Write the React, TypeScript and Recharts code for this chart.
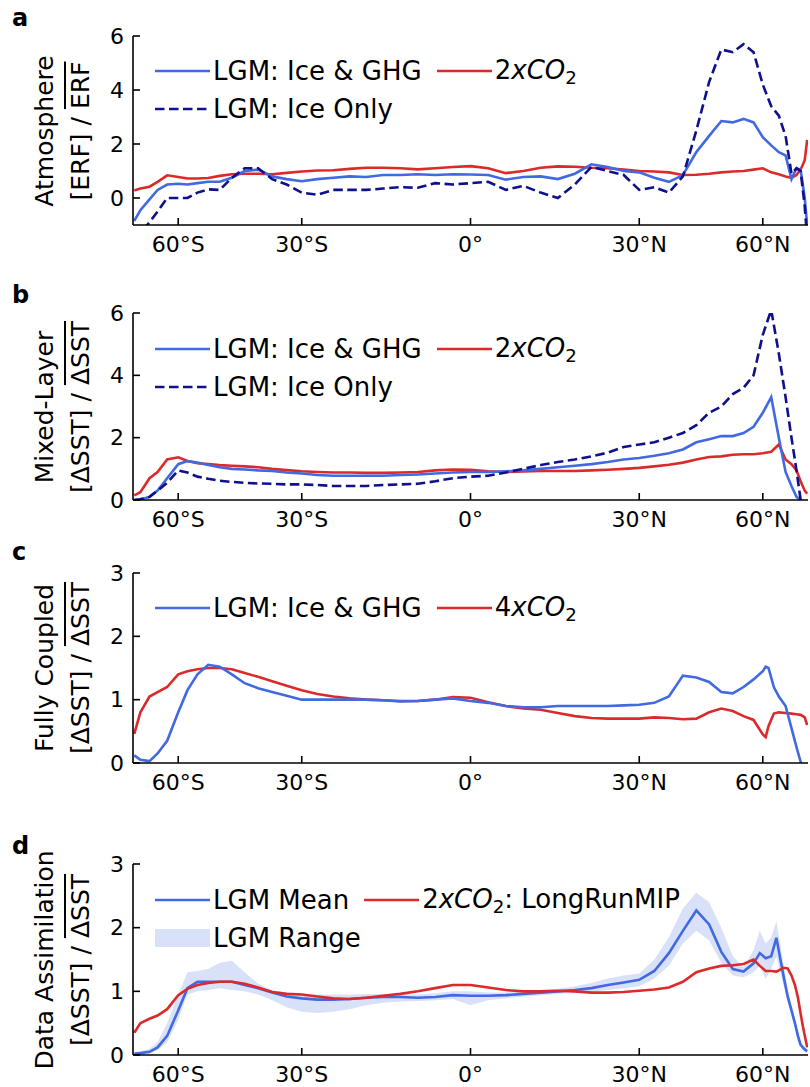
import React from "react";
import { ComposedChart, Line, Area, XAxis, YAxis } from "recharts";

const FONT = "'DejaVu Sans', sans-serif";
const BLUE = "#4169e1";
const RED = "#dc2a2a";
const NAVY = "#10108c";
const BAND = "#d9e1f9";

// latitude ticks, placed on a sin(latitude) axis
const TICK_LATS = [-60, -30, 0, 30, 60];
const TICK_LABELS = ["60°S", "30°S", "0°", "30°N", "60°N"];

// shared latitude grid (degrees)
const LAT = [
  -85, -78, -72, -68, -64, -60, -57, -54, -51, -48, -45, -42, -39, -36, -33, -30, -27, -24, -21, -18, -15, -12,
  -9, -6, -3, 0, 3, 6, 9, 12, 15, 18, 21, 24, 27, 30, 33, 36, 39, 42, 45, 48, 51, 54, 57, 60, 63, 66, 69, 72,
  75, 78, 82, 86,
];

// a: atmosphere, ERF-normalised
const ATM_ICE_GHG = [
  -0.85, -0.45, -0.05, 0.3, 0.5, 0.53, 0.5, 0.55, 0.6, 0.6, 0.75, 1.0, 1.05, 0.8, 0.7, 0.62, 0.7, 0.75, 0.8, 0.78,
  0.85, 0.85, 0.88, 0.85, 0.88, 0.87, 0.85, 0.68, 0.78, 0.8, 0.7, 0.9, 1.25, 1.15, 1.0, 0.95, 0.75, 0.6, 0.85, 1.7,
  2.3, 2.85, 2.8, 2.93, 2.8, 2.25, 1.95, 1.7, 1.58, 0.7, 1.1, 1.05, 0.0, -1.0,
];
const ATM_ICE_ONLY = [
  -1.6, -1.3, -0.9, -0.5, 0.0, 0.0, 0.0, 0.2, 0.32, 0.3, 0.75, 1.1, 1.1, 0.7, 0.5, 0.2, 0.12, 0.3, 0.3, 0.3, 0.35,
  0.4, 0.38, 0.55, 0.5, 0.55, 0.6, 0.3, 0.45, 0.2, 0.0, 0.5, 1.15, 1.0, 0.85, 0.3, 0.4, 0.2, 0.8, 2.5, 4.3, 5.5,
  5.4, 5.7, 5.4, 4.2, 3.4, 3.05, 2.3, 0.9, 1.1, 1.0, -0.3, -1.5,
];
const ATM_2XCO2 = [
  0.28, 0.35, 0.42, 0.6, 0.84, 0.78, 0.72, 0.72, 0.74, 0.82, 0.88, 0.9, 0.9, 0.88, 0.93, 0.98, 1.02, 1.03, 1.08,
  1.12, 1.12, 1.1, 1.06, 1.1, 1.15, 1.18, 1.1, 0.92, 1.0, 1.12, 1.17, 1.16, 1.12, 1.1, 1.05, 1.0, 0.98, 0.95, 0.85,
  0.86, 0.9, 0.95, 0.98, 1.0, 1.05, 1.1, 0.95, 0.88, 0.8, 0.75, 0.85, 1.05, 1.4, 2.15,
];

// b: mixed-layer ocean, SST-normalised
const ML_ICE_GHG = [
  0.0, 0.02, 0.1, 0.3, 0.7, 1.15, 1.25, 1.2, 1.12, 1.05, 1.0, 0.98, 0.95, 0.93, 0.88, 0.85, 0.8, 0.78, 0.78, 0.78,
  0.78, 0.8, 0.82, 0.85, 0.88, 0.9, 0.9, 0.92, 0.95, 1.0, 1.05, 1.1, 1.15, 1.22, 1.3, 1.35, 1.42, 1.5, 1.62, 1.85,
  1.95, 2.05, 2.05, 2.15, 2.35, 2.8, 3.3, 2.0, 0.9, 0.45, 0.1, 0.0, -0.2, -0.3,
];
const ML_ICE_ONLY = [
  0.0, 0.02, 0.1, 0.3, 0.55, 0.95, 0.88, 0.75, 0.68, 0.62, 0.58, 0.55, 0.53, 0.52, 0.5, 0.5, 0.48, 0.45, 0.45, 0.45,
  0.48, 0.5, 0.52, 0.6, 0.7, 0.75, 0.78, 0.88, 1.0, 1.12, 1.22, 1.3, 1.4, 1.52, 1.7, 1.78, 1.85, 2.0, 2.15, 2.4,
  2.8, 3.0, 3.4, 3.6, 4.0, 5.3, 6.1, 4.7, 3.3, 2.0, 0.95, 0.0, -0.3, -0.3,
];
const ML_2XCO2 = [
  0.15, 0.25, 0.7, 0.9, 1.3, 1.37, 1.25, 1.18, 1.15, 1.12, 1.1, 1.08, 1.05, 1.0, 0.96, 0.92, 0.9, 0.88, 0.88, 0.87,
  0.87, 0.88, 0.9, 0.95, 0.98, 0.97, 0.92, 0.9, 0.92, 0.93, 0.93, 0.93, 0.95, 0.97, 1.0, 1.03, 1.08, 1.13, 1.2, 1.3,
  1.38, 1.4, 1.45, 1.47, 1.47, 1.5, 1.55, 1.78, 1.3, 1.15, 0.95, 0.6, 0.3, 0.2,
];

// c: fully coupled, SST-normalised
const LAT_C = [
  -85, -78, -72, -68, -64, -60, -57, -54, -51, -48, -45, -42, -39, -36, -33, -30, -27, -24, -21, -18, -15, -12,
  -9, -6, -3, 0, 3, 6, 9, 12, 15, 18, 21, 24, 27, 30, 33, 36, 39, 42, 45, 48, 51, 54, 57, 60, 61, 62, 64, 66, 69,
  72, 75, 78, 82, 86,
];
const CPL_ICE_GHG = [
  0.12, 0.05, 0.03, 0.15, 0.35, 0.8, 1.15, 1.4, 1.55, 1.52, 1.4, 1.26, 1.18, 1.12, 1.06, 1.0, 1.0, 1.0, 1.0, 1.0,
  0.99, 0.97, 0.98, 1.0, 1.02, 0.98, 0.95, 0.9, 0.88, 0.88, 0.9, 0.9, 0.9, 0.9, 0.91, 0.92, 0.95, 1.05, 1.38, 1.35,
  1.28, 1.12, 1.1, 1.2, 1.32, 1.45, 1.52, 1.5, 1.2, 1.05, 0.9, 0.55, 0.25, 0.02, -0.2, -0.3,
];
const CPL_4XCO2 = [
  0.46, 0.8, 1.05, 1.12, 1.2, 1.4, 1.45, 1.48, 1.5, 1.5, 1.48, 1.42, 1.36, 1.29, 1.22, 1.15, 1.09, 1.05, 1.02, 1.0,
  0.99, 0.98, 0.98, 1.0, 1.04, 1.03, 0.96, 0.9, 0.86, 0.84, 0.79, 0.74, 0.71, 0.7, 0.7, 0.7, 0.72, 0.71, 0.69, 0.7,
  0.8, 0.86, 0.82, 0.74, 0.68, 0.45, 0.41, 0.58, 0.78, 0.8, 0.79, 0.78, 0.77, 0.76, 0.72, 0.6,
];

// d: data assimilation vs LongRunMIP
const LAT_D = [
  -85, -78, -72, -68, -64, -60, -57, -54, -51, -48, -45, -42, -39, -36, -33, -30, -27, -24, -21, -18, -15, -12,
  -9, -6, -3, 0, 3, 6, 9, 12, 15, 18, 21, 24, 27, 30, 33, 36, 39, 42, 45, 48, 51, 54, 57, 59, 61, 63, 65, 68, 70,
  72, 74, 76, 78, 80, 83, 86,
];
const DA_LGM_MEAN = [
  0.02, 0.03, 0.05, 0.12, 0.3, 0.7, 1.05, 1.15, 1.15, 1.15, 1.15, 1.1, 1.05, 0.98, 0.92, 0.89, 0.87, 0.87, 0.88, 0.9,
  0.91, 0.91, 0.9, 0.91, 0.94, 0.93, 0.93, 0.94, 0.96, 0.98, 1.0, 1.02, 1.05, 1.1, 1.14, 1.18, 1.32, 1.6, 1.95, 2.27,
  2.05, 1.62, 1.35, 1.31, 1.44, 1.6, 1.52, 1.55, 1.84, 1.25, 0.92, 0.7, 0.5, 0.3, 0.16, 0.12, 0.08, 0.06,
];
const DA_LGM_LOW = [
  0.0, 0.0, 0.02, 0.08, 0.2, 0.55, 0.95, 1.0, 1.02, 1.05, 1.02, 1.0, 0.95, 0.86, 0.75, 0.68, 0.66, 0.68, 0.72, 0.78,
  0.82, 0.84, 0.85, 0.86, 0.88, 0.78, 0.86, 0.89, 0.92, 0.94, 0.96, 0.97, 0.99, 1.02, 1.05, 1.08, 1.2, 1.4, 1.75,
  1.95, 1.8, 1.45, 1.25, 1.22, 1.3, 1.4, 1.2, 1.35, 1.55, 1.1, 0.85, 0.62, 0.4, 0.2, 0.12, 0.07, 0.04, 0.03,
];
const DA_LGM_HIGH = [
  0.05, 0.06, 0.1, 0.2, 0.5, 0.95, 1.3, 1.32, 1.35, 1.45, 1.48, 1.3, 1.12, 1.02, 0.98, 0.96, 0.95, 0.95, 0.95, 0.96,
  0.96, 0.96, 0.95, 0.97, 1.0, 1.0, 0.98, 0.98, 1.0, 1.02, 1.04, 1.08, 1.13, 1.2, 1.25, 1.28, 1.5, 1.85, 2.3, 2.55,
  2.4, 2.0, 1.55, 1.38, 1.65, 1.95, 1.75, 1.85, 2.1, 1.45, 1.05, 0.78, 0.55, 0.35, 0.2, 0.14, 0.09, 0.07,
];
const DA_2XCO2 = [
  0.35, 0.5, 0.57, 0.62, 0.72, 0.94, 1.04, 1.1, 1.13, 1.15, 1.15, 1.12, 1.06, 0.99, 0.96, 0.95, 0.92, 0.89, 0.88,
  0.9, 0.93, 0.96, 1.0, 1.05, 1.1, 1.1, 1.06, 1.02, 1.0, 1.0, 1.01, 1.0, 0.98, 0.98, 0.99, 1.01, 1.03, 1.06, 1.15,
  1.3, 1.36, 1.4, 1.41, 1.43, 1.5, 1.4, 1.32, 1.32, 1.31, 1.37, 1.36, 1.25, 1.1, 0.9, 0.65, 0.45, 0.25, 0.12,
];

const rad = (d: number) => (d * Math.PI) / 180;

function toRows(lat: number[], cols: Record<string, number[]>) {
  return lat.map((l, i) => {
    const row: Record<string, any> = { x: Math.sin(rad(l)) };
    for (const k of Object.keys(cols)) row[k] = cols[k][i];
    return row;
  });
}

const dataA = toRows(LAT, { ghg: ATM_ICE_GHG, ice: ATM_ICE_ONLY, co2: ATM_2XCO2 });
const dataB = toRows(LAT, { ghg: ML_ICE_GHG, ice: ML_ICE_ONLY, co2: ML_2XCO2 });
const dataC = toRows(LAT_C, { ghg: CPL_ICE_GHG, co2: CPL_4XCO2 });
const dataD = toRows(LAT_D, { mean: DA_LGM_MEAN, co2: DA_2XCO2 }).map((r, i) => ({
  ...r,
  range: [DA_LGM_LOW[i], DA_LGM_HIGH[i]],
}));

const W = 810;
const tickFont = { fontSize: 22, fill: "#000", fontFamily: FONT };
const axisLine = { stroke: "#000", strokeWidth: 1.6 };

function latAxis(h: number) {
  return (
    <XAxis
      type="number"
      dataKey="x"
      domain={[-1, 1]}
      ticks={TICK_LATS.map((l) => Math.sin(rad(l)))}
      tickFormatter={(_v: number, i: number) => TICK_LABELS[i]}
      interval={0}
      height={h}
      tick={tickFont}
      axisLine={axisLine}
      tickLine={axisLine}
      tickSize={-7}
      tickMargin={18}
      allowDataOverflow
    />
  );
}

function valueAxis(domain: [number, number], ticks: number[]) {
  return (
    <YAxis
      type="number"
      domain={domain}
      ticks={ticks}
      interval={0}
      width={133}
      tick={tickFont}
      axisLine={axisLine}
      tickLine={axisLine}
      tickSize={-7}
      tickMargin={16}
      allowDataOverflow
    />
  );
}

const lineProps = { type: "linear" as const, dot: false, strokeWidth: 2.6, isAnimationActive: false };

// "NxCO2" with italic xCO and a lowered 2 that does not disturb the line box
const CO2 = (n: string) => (
  <span>
    {n}
    <i>xCO</i>
    <span style={{ fontSize: "0.7em", position: "relative", top: "0.3em" }}>2</span>
  </span>
);

type Item = { label: React.ReactNode; color: string; dashed?: boolean; patch?: boolean };

function Swatch({ item }: { item: Item }) {
  return (
    <svg width={55} height={24} style={{ display: "block" }}>
      {item.patch ? (
        <rect x={0} y={3} width={55} height={18} fill={item.color} />
      ) : (
        <line
          x1={0}
          x2={55}
          y1={12}
          y2={12}
          stroke={item.color}
          strokeWidth={2.6}
          strokeDasharray={item.dashed ? "9.5 4.5" : undefined}
        />
      )}
    </svg>
  );
}

function LegendBox({ rows, top }: { rows: Item[][]; top: number }) {
  return (
    <div style={{ position: "absolute", left: 155, top, fontFamily: FONT, fontSize: 26 }}>
      {rows.map((row, r) => (
        <div key={r} style={{ display: "flex", alignItems: "center", height: 38 }}>
          {row.map((it, j) => (
            <div key={j} style={{ display: "flex", alignItems: "center", marginLeft: j ? 15 : 0 }}>
              <Swatch item={it} />
              <span style={{ marginLeft: 3, whiteSpace: "nowrap", lineHeight: "30px", display: "block" }}>
                {it.label}
              </span>
            </div>
          ))}
        </div>
      ))}
    </div>
  );
}

function AxisTitle({ top, line1, quantity }: { top: number; line1: string; quantity: string }) {
  return (
    <div
      style={{
        position: "absolute",
        left: 63,
        top,
        transform: "translate(-50%, -50%) rotate(-90deg)",
        fontFamily: FONT,
        fontSize: 25,
        lineHeight: "36px",
        textAlign: "center",
        whiteSpace: "nowrap",
      }}
    >
      <div>{line1}</div>
      <div>
        [{quantity}] / <span style={{ textDecoration: "overline", textDecorationThickness: 1.5 }}>{quantity}</span>
      </div>
    </div>
  );
}

function PanelLetter({ top, children }: { top: number; children: string }) {
  return (
    <div
      style={{
        position: "absolute",
        left: 12,
        top,
        fontFamily: FONT,
        fontWeight: "bold",
        fontSize: 24,
        lineHeight: "24px",
      }}
    >
      {children}
    </div>
  );
}

function Panel({ top, children }: { top: number; children: React.ReactNode }) {
  return <div style={{ position: "absolute", left: 0, top, width: W }}>{children}</div>;
}

export default function App() {
  return (
    <div style={{ position: "absolute", left: 0, top: 0, width: W, height: 1087, background: "#fff" }}>
      <Panel top={0}>
        <ComposedChart width={W} height={262} data={dataA} margin={{ top: 36, right: 2, bottom: 0, left: 0 }}>
          {latAxis(37)}
          {valueAxis([-1, 6], [0, 2, 4, 6])}
          <Line dataKey="co2" stroke={RED} {...lineProps} />
          <Line dataKey="ghg" stroke={BLUE} {...lineProps} />
          <Line dataKey="ice" stroke={NAVY} strokeDasharray="9.5 4.5" {...lineProps} />
        </ComposedChart>
      </Panel>

      <Panel top={270}>
        <ComposedChart width={W} height={265} data={dataB} margin={{ top: 43, right: 2, bottom: 0, left: 0 }}>
          {latAxis(35)}
          {valueAxis([0, 6], [0, 2, 4, 6])}
          <Line dataKey="co2" stroke={RED} {...lineProps} />
          <Line dataKey="ghg" stroke={BLUE} {...lineProps} />
          <Line dataKey="ice" stroke={NAVY} strokeDasharray="9.5 4.5" {...lineProps} />
        </ComposedChart>
      </Panel>

      <Panel top={540}>
        <ComposedChart width={W} height={258} data={dataC} margin={{ top: 33, right: 2, bottom: 0, left: 0 }}>
          {latAxis(35)}
          {valueAxis([0, 3], [0, 1, 2, 3])}
          <Line dataKey="co2" stroke={RED} {...lineProps} />
          <Line dataKey="ghg" stroke={BLUE} {...lineProps} />
        </ComposedChart>
      </Panel>

      <Panel top={828}>
        <ComposedChart width={W} height={259} data={dataD} margin={{ top: 36, right: 2, bottom: 0, left: 0 }}>
          {latAxis(32)}
          {valueAxis([0, 3], [0, 1, 2, 3])}
          <Area dataKey="range" type="linear" stroke="none" fill={BAND} fillOpacity={1} isAnimationActive={false} />
          <Line dataKey="mean" stroke={BLUE} {...lineProps} />
          <Line dataKey="co2" stroke={RED} {...lineProps} />
        </ComposedChart>
      </Panel>

      <LegendBox
        top={52}
        rows={[
          [
            { label: "LGM: Ice & GHG", color: BLUE },
            { label: CO2("2"), color: RED },
          ],
          [{ label: "LGM: Ice Only", color: NAVY, dashed: true }],
        ]}
      />
      <LegendBox
        top={330}
        rows={[
          [
            { label: "LGM: Ice & GHG", color: BLUE },
            { label: CO2("2"), color: RED },
          ],
          [{ label: "LGM: Ice Only", color: NAVY, dashed: true }],
        ]}
      />
      <LegendBox
        top={589}
        rows={[
          [
            { label: "LGM: Ice & GHG", color: BLUE },
            { label: CO2("4"), color: RED },
          ],
        ]}
      />
      <LegendBox
        top={881}
        rows={[
          [
            { label: "LGM Mean", color: BLUE },
            { label: <span>{CO2("2")}: LongRunMIP</span>, color: RED },
          ],
          [{ label: "LGM Range", color: BAND, patch: true }],
        ]}
      />

      <AxisTitle top={131} line1="Atmosphere" quantity="ERF" />
      <AxisTitle top={407} line1="Mixed-Layer" quantity="ΔSST" />
      <AxisTitle top={668} line1="Fully Coupled" quantity="ΔSST" />
      <AxisTitle top={960} line1="Data Assimilation" quantity="ΔSST" />

      <PanelLetter top={6}>a</PanelLetter>
      <PanelLetter top={283}>b</PanelLetter>
      <PanelLetter top={540}>c</PanelLetter>
      <PanelLetter top={834}>d</PanelLetter>
    </div>
  );
}
